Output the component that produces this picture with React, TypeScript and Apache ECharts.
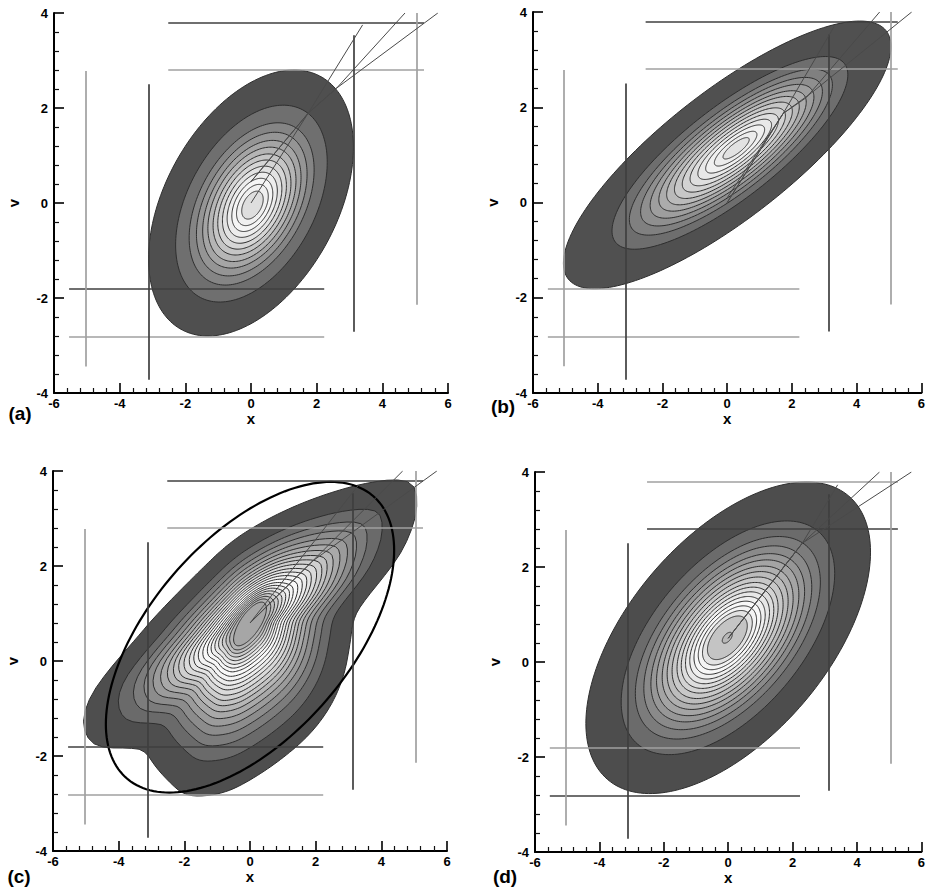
import React, { useEffect, useRef } from "react";
import * as echarts from "echarts";

// ---- panel layout -------------------------------------------------------
const panelTags = ["(a)", "(b)", "(c)", "(d)"];
const gridLeft = [54, 533, 53, 535];
const gridTop = [13, 12, 471, 472];
const gridWidth = [394, 394, 394, 392];
const gridHeight = [380, 381, 380, 380];
const tagX = [20, 503, 19, 505];
const tagY = [413, 406, 876, 876];

// ---- axes ---------------------------------------------------------------
const xRange = [-6, 6];
const vRange = [-4, 4];
const majorStep = 2;

// ---- reference lines (shared by the four panels) ------------------------
const hLineV = [3.8, 2.8, -1.81, -2.81];
const hLineFrom = [-2.52, -2.52, -5.54, -5.54];
const hLineTo = [5.27, 5.27, 2.23, 2.23];
const vLineX = [-5.04, -3.12, 3.13, 5.06];
const vLineFrom = [-3.44, -3.72, -2.71, -2.14];
const vLineTo = [2.78, 2.5, 3.53, 4.0];
// 0 = dark line, 1 = light line, per panel
const hShade = [
  [0, 1, 0, 1],
  [0, 1, 1, 1],
  [0, 1, 0, 1],
  [1, 0, 1, 0],
];
const vShade = [
  [1, 0, 0, 1],
  [1, 0, 0, 1],
  [1, 0, 0, 1],
  [1, 0, 0, 1],
];

// ---- fan of lines leaving the mode --------------------------------------
const fanA = [
  [[0, 0], [1.74, 1.89], [3.4, 3.75]],
  [[0, 0.45], [1.74, 1.89], [2.61, 2.42], [4.69, 4.0]],
  [[0, 0.45], [1.74, 1.89], [2.61, 2.42], [5.69, 4.0]],
];
const fanB = [
  [[0, 0], [1.73, 1.87], [3.3, 3.69]],
  [[0, 0], [1.73, 1.87], [2.44, 2.2], [4.71, 4.0]],
  [[0, 0.1], [1.73, 1.87], [2.6, 2.3], [5.7, 4.0]],
];
const fanC = [
  [[0, 0.8], [3.3, 3.7]],
  [[0, 0.8], [1.9, 2.1], [4.65, 4.0]],
  [[0, 0.8], [1.9, 2.1], [5.69, 4.0]],
];
const fanD = [
  [[0, 0.5], [2.3, 2.5], [3.4, 3.73]],
  [[0, 0.5], [2.3, 2.5], [4.7, 4.0]],
  [[0, 0.5], [2.3, 2.5], [5.69, 4.0]],
];

// ---- elliptical densities: [centre x, centre v, x spread, v spread, correlation]
const outerA = [0, 0, 3.12, 2.8, 0.42];
const peakA = [0.05, -0.05];
const levelsA = [1, 0.74, 0.61, 0.54, 0.48, 0.43, 0.38, 0.335, 0.29, 0.245, 0.2, 0.155, 0.105];
const grayA = [79, 111, 133, 149, 165, 181, 197, 213, 226, 237, 245, 240, 222];

const outerB = [0, 1.0, 5.06, 2.81, 0.81];
const peakB = [0.3, 1.15];
const levelsB = [1, 0.72, 0.62, 0.555, 0.5, 0.45, 0.405, 0.36, 0.315, 0.27, 0.225, 0.18, 0.13, 0.08];
const grayB = [80, 110, 128, 143, 158, 172, 186, 199, 211, 222, 232, 240, 236, 226];

const outerD = [0, 0.51, 4.42, 3.28, 0.55];
const peakD = [-0.03, 0.51];
const levelsD = [1, 0.75, 0.65, 0.59, 0.54, 0.5, 0.46, 0.425, 0.39, 0.355, 0.325, 0.295, 0.265, 0.235, 0.205, 0.175, 0.14, 0.035];
const grayD = [77, 107, 124, 138, 151, 164, 176, 188, 200, 211, 221, 231, 240, 248, 244, 226, 196, 184];

// ---- skewed density (c): outer contour, inner contour, blend levels ------
const outlineC = [
  [4.5, 3.84], [5.05, 3.72], [5.1, 3.2], [4.92, 2.74], [4.58, 2.24], [4.06, 1.76],
  [3.56, 1.34], [3.15, 0.93], [3.05, 0.36], [2.86, -0.34], [2.45, -0.98], [1.83, -1.55],
  [1.0, -2.05], [0.09, -2.48], [-0.72, -2.77], [-1.54, -2.86], [-2.06, -2.8], [-2.47, -2.54],
  [-2.87, -2.24], [-3.2, -1.88], [-3.6, -1.83], [-4.62, -1.83], [-5.02, -1.58], [-5.1, -1.17],
  [-4.82, -0.67], [-4.2, -0.1], [-3.48, 0.46], [-2.87, 0.96], [-1.62, 1.84], [-0.62, 2.5],
  [0.39, 2.94], [1.41, 3.28], [2.42, 3.54], [3.45, 3.74],
];
const peakC = [0, 0.78];
const innerC = [0.5, 0.46, 0.7];
const levelsC = [1, 0.77, 0.67, 0.6, 0.54, 0.49, 0.445, 0.405, 0.37, 0.335, 0.3, 0.27, 0.24, 0.21, 0.18, 0.155, 0.13, 0.105, 0.08, 0.055, 0.03, 0];
const grayC = [78, 106, 124, 140, 155, 169, 182, 195, 207, 218, 228, 237, 244, 249, 247, 240, 230, 218, 204, 190, 178, 166];
// fitted normal ellipse overlaid on (c)
const fitC = [0, 0.5, 4.39, 3.27, 0.56];

const FONT = '"Liberation Sans", Arial, Helvetica, sans-serif';
const N = 180;

const shade = (v: number) => `rgb(${v},${v},${v})`;

function ellipsePts(cx: number, cy: number, sx: number, sy: number, rho: number, r: number) {
  const s = Math.sqrt(1 - rho * rho);
  const pts: number[][] = [];
  for (let i = 0; i < N; i++) {
    const t = (2 * Math.PI * i) / N;
    const c = Math.cos(t);
    const sn = Math.sin(t);
    pts.push([cx + r * sx * c, cy + r * sy * (rho * c + s * sn)]);
  }
  return pts;
}

function chaikin(poly: number[][], rounds: number) {
  let p = poly;
  for (let k = 0; k < rounds; k++) {
    const q: number[][] = [];
    for (let i = 0; i < p.length; i++) {
      const a = p[i];
      const b = p[(i + 1) % p.length];
      q.push([0.75 * a[0] + 0.25 * b[0], 0.75 * a[1] + 0.25 * b[1]]);
      q.push([0.25 * a[0] + 0.75 * b[0], 0.25 * a[1] + 0.75 * b[1]]);
    }
    p = q;
  }
  return p;
}

function rayHit(poly: number[][], px: number, py: number, ang: number) {
  const dx = Math.cos(ang);
  const dy = Math.sin(ang);
  let best = Infinity;
  for (let i = 0; i < poly.length; i++) {
    const [x1, y1] = poly[i];
    const [x2, y2] = poly[(i + 1) % poly.length];
    const ex = x2 - x1;
    const ey = y2 - y1;
    const den = dx * ey - dy * ex;
    if (Math.abs(den) < 1e-12) continue;
    const wx = x1 - px;
    const wy = y1 - py;
    const t = (wx * ey - wy * ex) / den;
    const u = (wx * dy - wy * dx) / den;
    if (t > 0 && u >= 0 && u <= 1 && t < best) best = t;
  }
  return best;
}

function ellipseRadius(sx: number, sy: number, rho: number, ux: number, uy: number) {
  const q = (ux * ux * sy * sy - 2 * rho * sx * sy * ux * uy + uy * uy * sx * sx) / (sx * sx * sy * sy * (1 - rho * rho));
  return 1 / Math.sqrt(q);
}

function ellipseContours(p: number, outer: number[], peak: number[], levels: number[], grays: number[]) {
  const [cx, cy, sx, sy, rho] = outer;
  return {
    type: "custom",
    xAxisIndex: p,
    yAxisIndex: p,
    silent: true,
    z: 2,
    data: levels.map((_, i) => [0, 0, i]),
    renderItem: (params: any, api: any) => {
      const i = params.dataIndex;
      const r = levels[i];
      const ccx = peak[0] + r * (cx - peak[0]);
      const ccy = peak[1] + r * (cy - peak[1]);
      const pts = ellipsePts(ccx, ccy, sx, sy, rho, r).map((q) => api.coord(q));
      return {
        type: "polygon",
        shape: { points: pts },
        style: { fill: shade(grays[i]), stroke: "#2e2e2e", lineWidth: 1 },
      };
    },
  };
}

function skewedContours(p: number) {
  const smooth = chaikin(outlineC, 2);
  const [isx, isy, irho] = innerC;
  const dirs: number[][] = [];
  const rIn: number[] = [];
  const rOut: number[] = [];
  for (let j = 0; j < N; j++) {
    const a = (2 * Math.PI * j) / N;
    const ux = Math.cos(a);
    const uy = Math.sin(a);
    dirs.push([ux, uy]);
    rIn.push(ellipseRadius(isx, isy, irho, ux, uy));
    rOut.push(rayHit(smooth, peakC[0], peakC[1], a));
  }
  return {
    type: "custom",
    xAxisIndex: p,
    yAxisIndex: p,
    silent: true,
    z: 2,
    data: levelsC.map((_, i) => [0, 0, i]),
    renderItem: (params: any, api: any) => {
      const i = params.dataIndex;
      const t = levelsC[i];
      const pts = dirs.map((d, j) => {
        const r = rIn[j] + t * (rOut[j] - rIn[j]);
        return api.coord([peakC[0] + r * d[0], peakC[1] + r * d[1]]);
      });
      return {
        type: "polygon",
        shape: { points: pts },
        style: { fill: shade(grayC[i]), stroke: "#2e2e2e", lineWidth: 1 },
      };
    },
  };
}

function fitEllipse(p: number) {
  const [cx, cy, sx, sy, rho] = fitC;
  return {
    type: "custom",
    xAxisIndex: p,
    yAxisIndex: p,
    silent: true,
    z: 3,
    data: [[0, 0]],
    renderItem: (_params: any, api: any) => {
      const pts = ellipsePts(cx, cy, sx, sy, rho, 1).map((q) => api.coord(q));
      return {
        type: "polygon",
        shape: { points: pts },
        style: { fill: "none", stroke: "#000", lineWidth: 2.2 },
      };
    },
  };
}

function guideLines(p: number) {
  const dark = "#3f3f3f";
  const light = "#a0a0a0";
  const data: any[] = [];
  hLineV.forEach((v, i) => {
    data.push({
      coords: [[hLineFrom[i], v], [hLineTo[i], v]],
      lineStyle: { color: hShade[p][i] ? light : dark },
    });
  });
  vLineX.forEach((x, i) => {
    data.push({
      coords: [[x, vLineFrom[i]], [x, vLineTo[i]]],
      lineStyle: { color: vShade[p][i] ? light : dark },
    });
  });
  return {
    type: "lines",
    coordinateSystem: "cartesian2d",
    xAxisIndex: p,
    yAxisIndex: p,
    silent: true,
    z: 4,
    lineStyle: { width: 1.7, opacity: 1, curveness: 0 },
    data,
  };
}

function fanLines(p: number, fan: number[][][]) {
  return {
    type: "lines",
    coordinateSystem: "cartesian2d",
    xAxisIndex: p,
    yAxisIndex: p,
    polyline: true,
    silent: true,
    z: 5,
    lineStyle: { width: 1, color: "#4a4a4a", opacity: 1 },
    data: fan.map((c) => ({ coords: c })),
  };
}

function buildOption() {
  const idx = [0, 1, 2, 3];
  const labelStyle = { color: "#000", fontWeight: "bold", fontSize: 13, fontFamily: FONT };
  const tickStyle = {
    axisLine: { onZero: false, lineStyle: { color: "#000", width: 2 } },
    axisTick: { show: true, inside: true, length: 10, lineStyle: { color: "#000", width: 1.6 } },
    minorTick: { show: true, splitNumber: 5, length: 5, lineStyle: { color: "#111", width: 1.2 } },
    splitLine: { show: false },
    minorSplitLine: { show: false },
  };
  return {
    animation: false,
    backgroundColor: "#fff",
    grid: idx.map((i) => ({
      left: gridLeft[i],
      top: gridTop[i],
      width: gridWidth[i],
      height: gridHeight[i],
      containLabel: false,
    })),
    xAxis: idx.map((i) => ({
      gridIndex: i,
      type: "value",
      min: xRange[0],
      max: xRange[1],
      interval: majorStep,
      ...tickStyle,
      axisLabel: { ...labelStyle, margin: 4 },
      name: "x",
      nameLocation: "middle",
      nameGap: 18,
      nameTextStyle: { color: "#000", fontWeight: "bold", fontSize: 15, fontFamily: FONT },
    })),
    yAxis: idx.map((i) => ({
      gridIndex: i,
      type: "value",
      min: vRange[0],
      max: vRange[1],
      interval: majorStep,
      ...tickStyle,
      axisLabel: { ...labelStyle, margin: 6 },
      name: "v",
      nameLocation: "middle",
      nameGap: 33,
      nameRotate: 90,
      nameTextStyle: { color: "#000", fontWeight: "bold", fontSize: 15, fontFamily: FONT },
    })),
    graphic: idx.map((i) => ({
      type: "text",
      x: tagX[i],
      y: tagY[i],
      silent: true,
      style: {
        text: panelTags[i],
        font: `bold 19px ${FONT}`,
        fill: "#000",
        textAlign: "center",
        textVerticalAlign: "middle",
      },
    })),
    series: [
      ellipseContours(0, outerA, peakA, levelsA, grayA),
      guideLines(0),
      fanLines(0, fanA),
      ellipseContours(1, outerB, peakB, levelsB, grayB),
      guideLines(1),
      fanLines(1, fanB),
      skewedContours(2),
      fitEllipse(2),
      guideLines(2),
      fanLines(2, fanC),
      ellipseContours(3, outerD, peakD, levelsD, grayD),
      guideLines(3),
      fanLines(3, fanD),
    ],
  };
}

export default function App() {
  const ref = useRef<HTMLDivElement>(null);
  useEffect(() => {
    if (!ref.current) return;
    const chart = echarts.init(ref.current, null, { renderer: "svg" });
    chart.setOption(buildOption() as any);
    return () => chart.dispose();
  }, []);
  return (
    <div
      ref={ref}
      style={{ position: "absolute", left: 0, top: 0, width: 928, height: 887, background: "#fff" }}
    />
  );
}
